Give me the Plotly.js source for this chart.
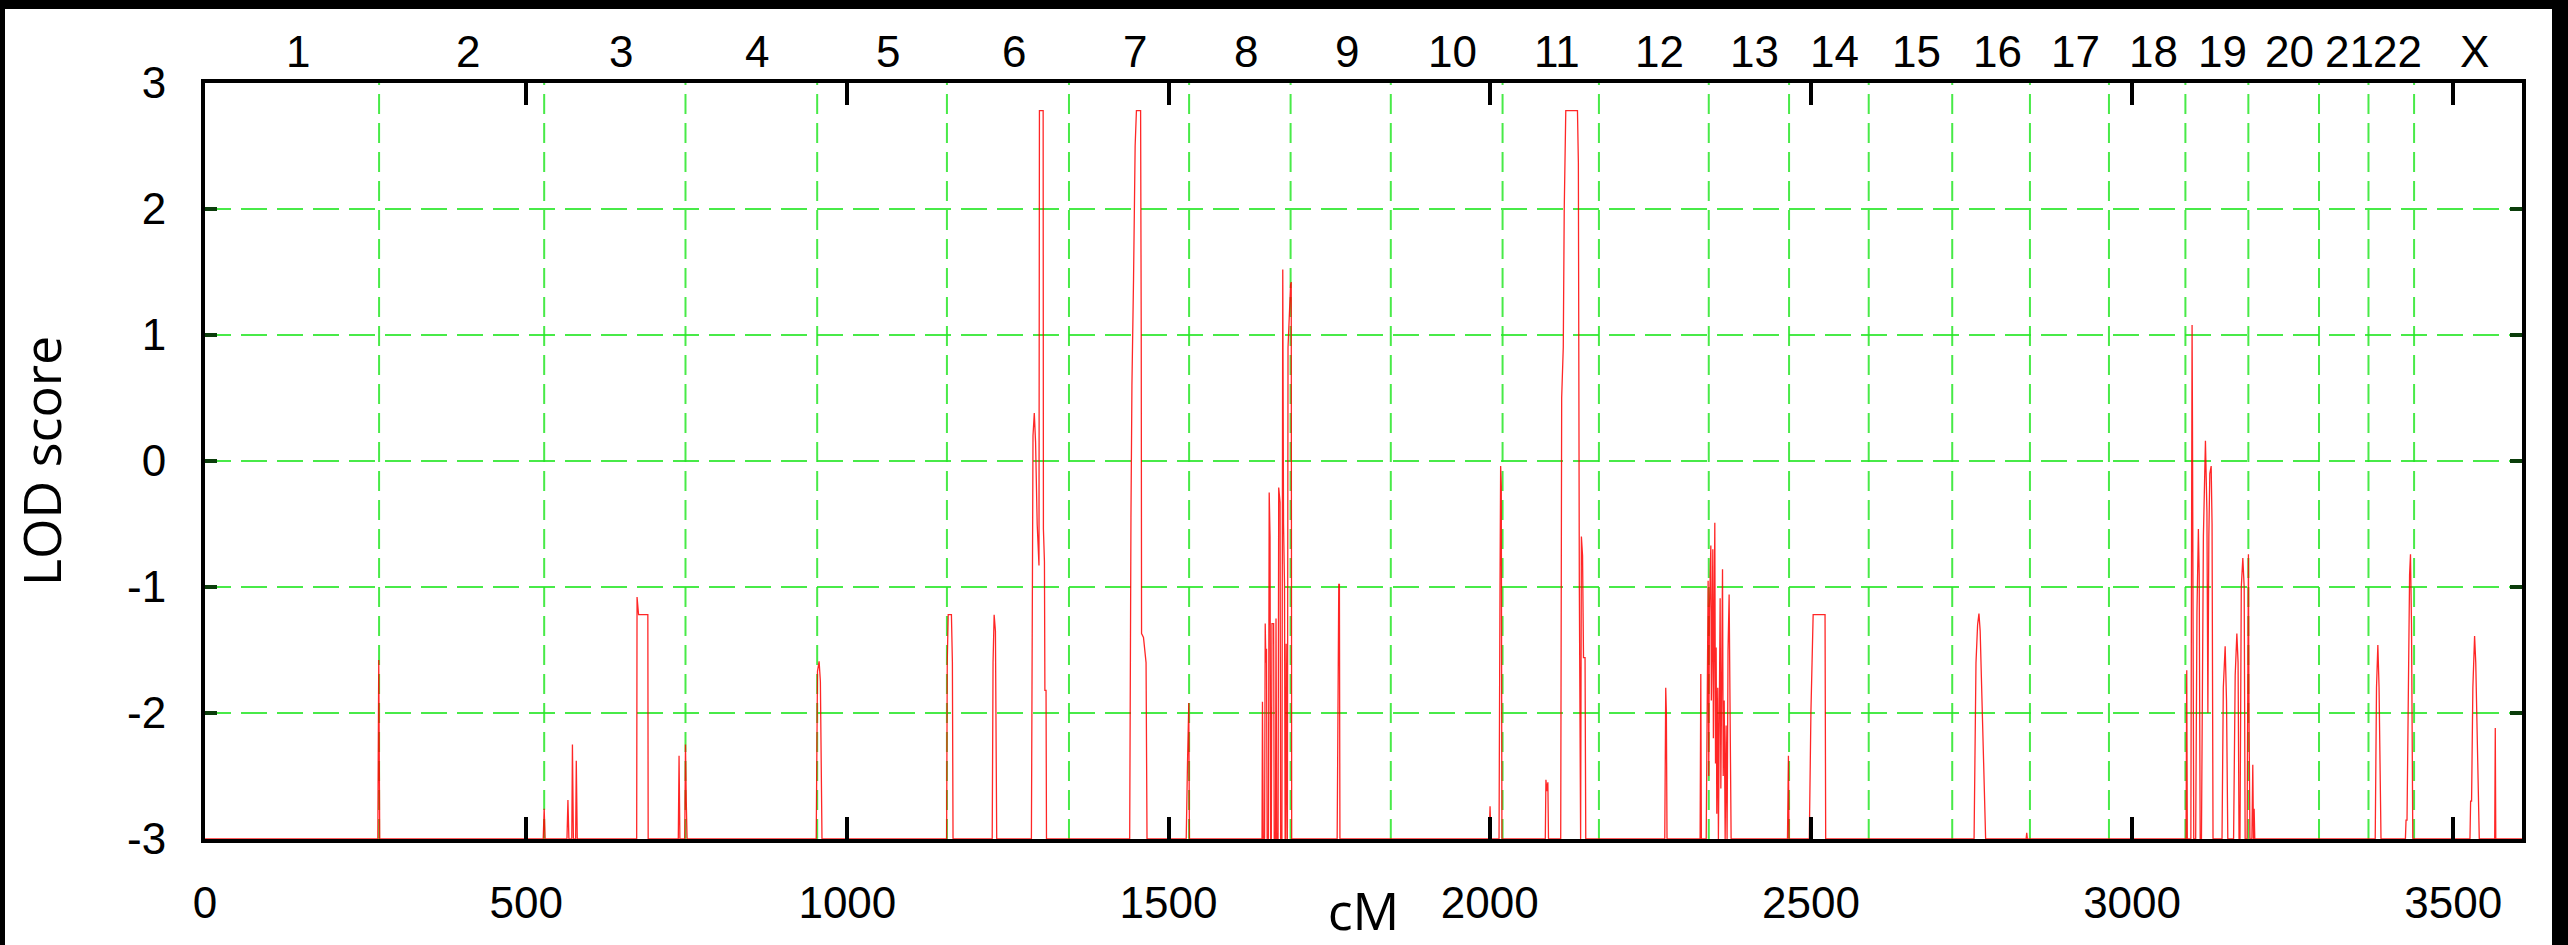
<!DOCTYPE html>
<html>
<head>
<meta charset="utf-8">
<script src="https://cdn.plot.ly/plotly-3.0.1.min.js"></script>
<style>
  html, body { margin: 0; padding: 0; background: #000; width: 2568px; height: 945px; overflow: hidden; }
  #chart { position: absolute; left: 5px; top: 9px; width: 2547px; height: 936px; background: #fff; }
</style>
</head>
<body>
<div id="chart"></div>
<script>
// Chromosome boundaries (cM) and labels
const chromBoundariesCM = [0, 271, 528, 748, 953, 1155, 1345, 1532, 1690, 1846, 2020, 2170, 2341, 2466, 2590, 2720, 2841, 2964, 3083, 3181, 3291, 3368, 3439, 3607];
const chromLabels = ["1","2","3","4","5","6","7","8","9","10","11","12","13","14","15","16","17","18","19","20","21","22","X"];

// Axis ticks
const xTickVals = [0, 500, 1000, 1500, 2000, 2500, 3000, 3500];
const yTickVals = [-3, -2, -1, 0, 1, 2, 3];

// LOD score curve (position in cM, LOD score); -3 is the floor of the plot
const lodCM = [
  0,
  269, 270.5, 272,
  526.5, 528, 529.5,
  563.5, 565, 566.5,
  571, 572, 573.5,
  577, 578, 579.5,
  672, 672.6, 675, 689.4, 689.9,
  736.8, 738, 739.3,
  746.8, 748, 749.2, 750.5,
  951.5, 953.5, 956, 958, 960.5,
  1154.5, 1155.5, 1157, 1162, 1163.5, 1164.5,
  1225.5, 1226.8, 1228.5, 1230.5, 1232.5,
  1286.5, 1287.5, 1289, 1291, 1293, 1295.5, 1298.3, 1299, 1304.8, 1305.2, 1306.8, 1307.5, 1309.3, 1310,
  1439.5, 1441.5, 1443, 1445.5, 1448, 1450, 1456.5, 1457.5, 1458, 1461, 1463.5, 1465, 1466.5,
  1527.5, 1529.5, 1531.5, 1532.5,
  1645.5, 1646.2, 1647.5, 1649.5, 1650.5, 1651.5, 1652.5, 1653.5, 1655.5, 1656.7, 1658, 1659,
  1660, 1661, 1663.6, 1664.5, 1666.5, 1667.3, 1668.5, 1670.5, 1671.5, 1673.6, 1674.5,
  1676.5, 1677.8, 1679, 1680.5, 1681.5, 1682.5, 1683.1, 1684, 1685, 1686, 1688, 1690, 1691, 1691.7,
  1762.5, 1763.5, 1765, 1766, 1766.8,
  1999, 2000.5, 2002,
  2014.5, 2016, 2017, 2018, 2019,
  2086.5, 2087.5, 2089, 2090.5, 2091.5,
  2110.5, 2112, 2113.2, 2114.5, 2116, 2118.4, 2136.6, 2138, 2139.5, 2140.5, 2141.5, 2142.7, 2144.5, 2146, 2148.4, 2149.5,
  2272.5, 2274, 2275, 2276,
  2327.5, 2328.6, 2329.5, 2337, 2338.5, 2340, 2341, 2342, 2344.2, 2345, 2346, 2347.3, 2348.2, 2349, 2350.4,
  2351.5, 2352.5, 2353.5, 2355, 2356, 2357.5, 2358.7, 2359.8, 2361, 2362.4, 2363.5, 2365, 2366.5, 2368,
  2369.5, 2371, 2372.7, 2374, 2375.8,
  2463.5, 2465, 2466,
  2497.5, 2500, 2503.5, 2522, 2523,
  2754, 2757, 2759.5, 2761.6, 2763.5, 2766, 2769, 2772,
  2835, 2836, 2837,
  3084, 3085.1, 3086,
  3091.5, 3092.5, 3093.4, 3094, 3095, 3096,
  3099, 3101, 3103.2, 3104.5, 3106,
  3108, 3111, 3114.2, 3116.5, 3118, 3119.5, 3121, 3123.1, 3124.5, 3126,
  3140, 3142, 3144.9, 3147, 3149,
  3158, 3160.5, 3163.1, 3165, 3166.5,
  3168, 3170, 3172.4, 3174.5, 3176,
  3179, 3180.5, 3181.1, 3182, 3183.5,
  3186.5, 3187.9, 3189, 3190, 3191,
  3378.5, 3380.5, 3382.6, 3384.5, 3387.5,
  3425.5, 3426.5, 3428, 3430, 3432, 3433.4, 3435, 3437,
  3526, 3527, 3528.5, 3530.5, 3533.2, 3535, 3538, 3540.5,
  3564.5, 3565.4, 3566.2,
  3607
];
const lodScore = [
  -3,
  -3, -1.58, -3,
  -3, -2.76, -3,
  -3, -2.69, -3,
  -3, -2.25, -3,
  -3, -2.38, -3,
  -3, -1.08, -1.22, -1.22, -3,
  -3, -2.34, -3,
  -3, -2.25, -2.7, -3,
  -3, -1.67, -1.59, -1.75, -3,
  -3, -1.6, -1.22, -1.22, -1.6, -3,
  -3, -1.6, -1.22, -1.35, -3,
  -3, -0.8, 0.2, 0.38, 0.15, -0.5, -0.83, 2.78, 2.78, -0.54, -0.8, -1.82, -1.82, -3,
  -3, -0.45, 0.6, 1.44, 2.5, 2.78, 2.78, 1.0, -1.37, -1.4, -1.52, -1.6, -3,
  -3, -2.4, -1.92, -3,
  -3, -1.91, -3, -3, -1.29, -1.6, -1.49, -3, -3, -0.25, -0.6, -3,
  -3, -1.29, -1.29, -3, -3, -1.25, -3, -3, -0.21, -0.33, -3,
  -3, 1.52, -0.5, -0.97, -3, -3, -1.45, -3, -3, 0.9, 1.25, 1.4, 1.42, -3,
  -3, -1.68, -0.98, -0.98, -3,
  -3, -2.74, -3,
  -3, -1.0, -0.04, -0.2, -3,
  -3, -2.53, -2.62, -2.55, -3,
  -3, 0.5, 0.85, 0.9, 2.0, 2.78, 2.78, 2.37, -1.0, -3, -3, -0.6, -0.75, -1.56, -1.56, -3,
  -3, -1.8, -2.0, -3,
  -3, -1.69, -3, -3, -1.8, -0.95, -2.5, -1.2, -0.67, -1.9, -1.5, -0.7, -2.2, -1.4, -0.49,
  -2.4, -1.48, -2.8, -1.8, -3, -1.6, -1.09, -2.6, -1.4, -0.86, -2.5, -1.9, -3, -2.1,
  -3, -1.5, -1.06, -2.0, -3,
  -3, -2.34, -3,
  -3, -2.0, -1.22, -1.22, -3,
  -3, -1.6, -1.3, -1.21, -1.35, -1.8, -2.5, -3,
  -3, -2.95, -3,
  -3, -1.66, -3,
  -3, 0.0, 1.08, 0.3, -1.2, -3,
  -3, -1.2, -0.54, -0.9, -3,
  -3, -0.6, 0.16, -0.4, -2.0, -0.6, -0.1, -0.04, -0.5, -3,
  -3, -1.8, -1.47, -1.9, -3,
  -3, -1.7, -1.37, -1.6, -3,
  -3, -1.0, -0.77, -1.0, -3,
  -3, -0.9, -0.74, -2.0, -3,
  -3, -2.41, -3, -2.76, -3,
  -3, -1.8, -1.46, -1.8, -3,
  -3, -2.85, -2.85, -1.5, -0.9, -0.74, -1.3, -3,
  -3, -2.7, -2.7, -1.8, -1.39, -1.6, -2.4, -3,
  -3, -2.12, -3,
  -3
];

const GRID_GREEN = 'rgba(40,230,40,0.85)';
const TICK_FONT = { family: 'Liberation Sans, Arial, sans-serif', size: 44, color: '#000' };
const TITLE_FONT = { family: 'Open Sans, sans-serif', size: 52, color: '#000' };

// vertical dashed lines at chromosome boundaries (interior ones)
const shapes = chromBoundariesCM.slice(1, -1).map(b => ({
  type: 'line', xref: 'x', yref: 'paper', x0: b, x1: b, y0: 0, y1: 1,
  line: { color: GRID_GREEN, width: 2, dash: '20px,9px' }, layer: 'below'
}));

// chromosome labels along the top
const annotations = chromLabels.map((lab, i) => ({
  text: lab, xref: 'x', yref: 'paper',
  x: (chromBoundariesCM[i] + chromBoundariesCM[i + 1]) / 2,
  y: 1, yanchor: 'bottom', xanchor: 'center', yshift: 5, xshift: 6,
  showarrow: false, font: TICK_FONT
}));

const trace = {
  x: lodCM, y: lodScore, type: 'scatter', mode: 'lines',
  line: { color: 'rgba(255,0,0,0.85)', width: 1.3 },
  hoverinfo: 'skip', showlegend: false
};

const layout = {
  width: 2547, height: 936,
  margin: { l: 200, r: 30, t: 74, b: 106, pad: 0 },
  paper_bgcolor: '#fff', plot_bgcolor: '#fff',
  showlegend: false,
  xaxis: {
    range: [0, 3607], tickvals: xTickVals, ticktext: xTickVals.map(String),
    showgrid: false, zeroline: false,
    showline: true, linecolor: '#000', linewidth: 4, mirror: 'allticks',
    ticks: 'inside', ticklen: 22, tickwidth: 4, tickcolor: '#000',
    tickfont: TICK_FONT, ticklabelstandoff: 22,
    title: { text: 'cM', font: TITLE_FONT },
    automargin: false
  },
  yaxis: {
    range: [-3, 3], tickvals: yTickVals, ticktext: yTickVals.map(String),
    showgrid: true, gridcolor: GRID_GREEN, gridwidth: 2, griddash: '26px,10px',
    zeroline: false,
    showline: true, linecolor: '#000', linewidth: 4, mirror: 'allticks',
    ticks: 'inside', ticklen: 12, tickwidth: 4, tickcolor: '#0b3d0b',
    tickfont: TICK_FONT, ticklabelstandoff: 26,
    title: { text: 'LOD score', font: TITLE_FONT, standoff: 58 },
    automargin: true
  },
  shapes: shapes,
  annotations: annotations
};

Plotly.newPlot('chart', [trace], layout, { staticPlot: true, displayModeBar: false });
</script>
</body>
</html>
